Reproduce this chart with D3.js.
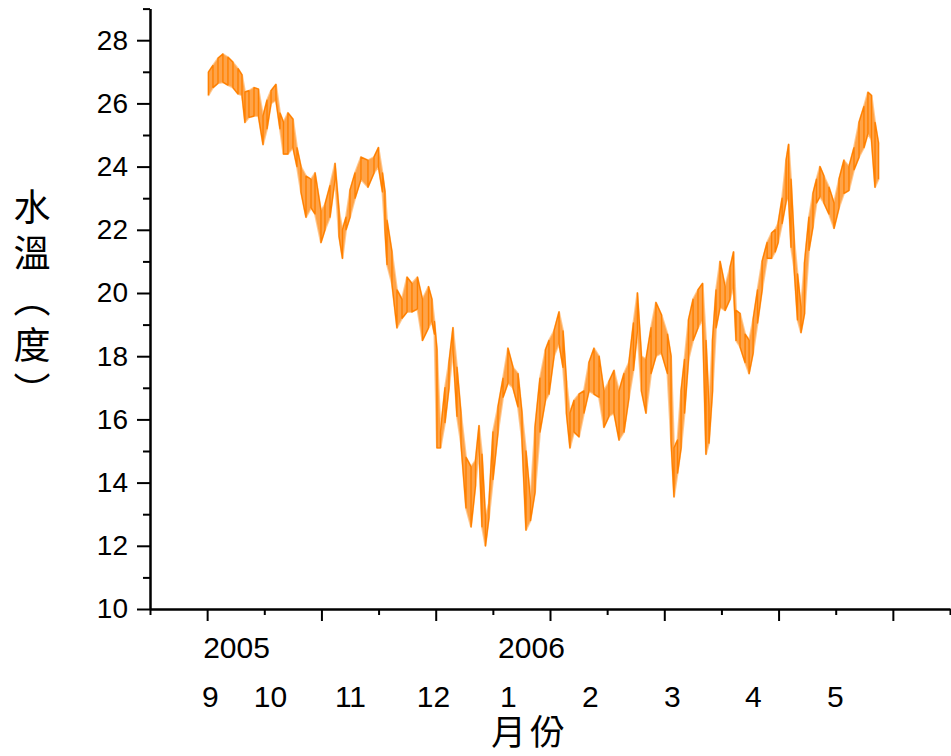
<!DOCTYPE html>
<html lang="zh-Hant">
<head>
    <meta charset="UTF-8">
    <title>水溫</title>
    <script src="https://d3js.org/d3.v7.min.js"></script>
    <style>
        body {
            margin: 0;
            background-color: #ffffff;
        }
        .axis path, .axis line {
            stroke: #000;
            stroke-width: 2px;
        }
        .axis text {
            font-family: 'Liberation Sans', Arial, sans-serif;
            font-size: 28px;
            fill: #000;
        }
        .date-label {
            font-family: 'Liberation Sans', Arial, sans-serif;
            font-size: 30px;
            fill: #000;
        }
        .cjk-label {
            font-family: 'Noto Sans CJK TC', 'Noto Sans CJK SC', sans-serif;
            fill: #000;
        }
    </style>
</head>
<body>
    <svg id="chart"></svg>

    <script>
        // sample index of each reading (the x axis runs in sample counts)
        const sampleIdx = [
            12, 51, 95, 138, 182, 226, 270, 305, 331, 366, 410, 449, 489, 524, 559, 602,
            637, 668, 707, 751, 786, 821, 865, 909, 944, 996, 1031, 1075, 1119, 1154, 1184, 1215,
            1250, 1294, 1346, 1407, 1460, 1499, 1534, 1556, 1574, 1617, 1661, 1705, 1749, 1792, 1840, 1884,
            1937, 1967, 1989, 2011, 2042, 2081, 2116, 2151, 2186, 2221, 2265, 2309, 2348, 2379, 2405, 2435,
            2466, 2501, 2545, 2589, 2632, 2676, 2720, 2755, 2790, 2829, 2869, 2912, 2960, 2991, 3035, 3079,
            3114, 3144, 3175, 3210, 3254, 3297, 3341, 3385, 3429, 3472, 3516, 3560, 3604, 3647, 3691, 3730,
            3765, 3800, 3840, 3884, 3927, 3976, 4028, 4059, 4085, 4116, 4147, 4177, 4212, 4252, 4295, 4335,
            4365, 4391, 4422, 4453, 4488, 4532, 4575, 4606, 4628, 4663, 4707, 4742, 4777, 4816, 4856, 4900,
            4939, 4970, 4996, 5031, 5066, 5088, 5109, 5136, 5166, 5196, 5227, 5266, 5301, 5332, 5362, 5397,
            5441, 5485, 5529, 5572, 5616, 5660, 5704, 5747, 5782, 5813, 5844, 5874
        ];

        // upper and lower water temperature (°C) around each reading
        const tempHigh = [
            26.99, 27.2, 27.43, 27.56, 27.46, 27.3, 27.1, 26.9, 26.36, 26.4, 26.5, 26.45, 25.6, 26.1, 26.4, 26.6,
            25.7, 25.4, 25.7, 25.5, 24.6, 24.0, 23.7, 23.6, 23.8, 22.6, 22.8, 23.4, 24.1, 22.6, 22.0, 22.4,
            23.25, 23.8, 24.3, 24.2, 24.3, 24.6, 23.8, 23.2, 22.3, 21.3, 20.1, 19.8, 20.5, 20.3, 20.5, 19.8,
            20.2, 19.8, 19.1, 18.2, 15.6, 17.0, 17.8, 18.9, 17.65, 16.2, 14.8, 14.5, 14.7, 15.8, 14.9, 12.9,
            13.35, 15.6, 16.4, 17.3, 18.25, 17.65, 17.45, 16.2, 15.0, 13.45, 15.75, 17.3, 18.2, 18.5, 18.8, 19.4,
            18.8, 17.2, 16.2, 16.6, 16.8, 16.9, 17.8, 18.25, 18.0, 16.9, 17.2, 17.55, 16.9, 17.45, 17.8, 19.05,
            20.0, 18.0, 17.9, 18.9, 19.7, 19.3, 18.7, 18.0, 15.1, 15.35, 16.9, 17.9, 19.15, 19.8, 20.1, 20.3,
            18.5, 16.4, 18.5, 20.1, 21.0, 20.2, 20.8, 21.3, 19.45, 19.35, 18.7, 18.5, 19.15, 20.1, 21.0, 21.6,
            21.9, 22.0, 22.2, 23.0, 24.2, 24.7, 23.6, 21.7, 20.6, 19.55, 20.95, 22.4, 23.15, 23.6, 24.0, 23.7,
            23.35, 22.85, 23.6, 24.2, 24.0, 24.6, 25.4, 25.9, 26.35, 26.25, 25.4, 24.75
        ];
        const tempLow = [
            26.26, 26.5, 26.64, 26.67, 26.58, 26.5, 26.3, 26.26, 25.4, 25.56, 25.6, 25.6, 24.7, 25.2, 26.0, 26.1,
            25.2, 24.4, 24.4, 24.6, 24.0, 23.2, 22.4, 22.7, 22.5, 21.6, 22.0, 22.4, 23.6, 21.8, 21.1, 22.0,
            22.4, 23.0, 23.6, 23.35, 23.8, 24.0, 23.2, 22.0, 20.9, 20.3, 18.9, 19.2, 19.4, 19.4, 19.5, 18.5,
            18.9, 19.1, 18.7, 15.1, 15.1, 15.9, 17.0, 18.2, 16.1, 15.25, 13.2, 12.6, 13.9, 15.1, 12.6, 12.0,
            12.9, 14.1, 15.6, 16.7, 17.15, 17.0, 16.4, 15.35, 12.5, 12.8, 13.7, 15.6, 16.6, 16.8, 18.0, 18.4,
            17.65, 16.2, 15.1, 15.6, 15.45, 16.2, 16.9, 16.8, 16.7, 15.75, 16.1, 16.2, 15.35, 15.6, 16.7, 17.55,
            18.8, 16.9, 16.2, 17.45, 18.0, 18.1, 17.45, 15.35, 13.55, 14.3, 15.1, 16.2, 17.9, 18.5, 18.9, 19.15,
            14.9, 15.25, 16.9, 18.9, 19.55, 19.45, 19.8, 20.2, 18.5, 18.3, 17.8, 17.45, 18.1, 19.05, 20.1, 21.1,
            21.1, 21.3, 21.6, 22.2, 22.9, 23.0, 21.45, 20.8, 19.15, 18.75, 19.35, 21.35, 22.1, 22.85, 23.05, 22.85,
            22.5, 22.05, 22.7, 23.15, 23.25, 23.9, 24.3, 24.6, 25.05, 24.85, 23.35, 23.6
        ];

        // y ticks
        const yMajorTicks = [10, 12, 14, 16, 18, 20, 22, 24, 26, 28];
        const yMinorTicks = [11, 13, 15, 17, 19, 21, 23, 25, 27, 29];
        // x ticks (sample index)
        const xMajorTicks = [0, 1000, 2000, 3000, 4000, 5000, 6000];
        const xMinorTicks = [-500, 500, 1500, 2500, 3500, 4500, 5500, 6500];

        // month / year labels under the axis, placed at sample positions
        const monthLabels = ["9", "10", "11", "12", "1", "2", "3", "4", "5"];
        const monthPos = [29, 554, 1254, 1980, 2636, 3353, 4071, 4780, 5497];
        const yearLabels = ["2005", "2006"];
        const yearPos = [257, 2838];

        const xTitle = "月份";
        const yTitle = "水溫（度）";

        const W = 951, H = 756;
        const margin = { top: 8.6, right: 1, bottom: 147, left: 150 };

        const svg = d3.select("#chart")
            .attr("width", W)
            .attr("height", H);

        const x = d3.scaleLinear()
            .domain([-500, 6500])
            .range([margin.left, W - margin.right]);

        const y = d3.scaleLinear()
            .domain([10, 29])
            .range([H - margin.bottom, margin.top]);

        const records = sampleIdx.map((s, i) => ({ s, hi: tempHigh[i], lo: tempLow[i] }));

        // band between low and high readings
        const band = d3.area()
            .x(d => x(d.s))
            .y0(d => y(d.lo))
            .y1(d => y(d.hi));

        svg.append("path")
            .datum(records)
            .attr("fill", "#ff8c1a")
            .attr("fill-opacity", 0.8)
            .attr("stroke", "#ffa64d")
            .attr("stroke-opacity", 0.6)
            .attr("stroke-width", 2)
            .attr("stroke-linejoin", "round")
            .attr("d", band);

        // zig-zag through low/high readings (swing of each reading)
        const pts = [];
        records.forEach((r, i) => {
            if (i % 2 === 0) {
                pts.push([r.s, r.lo], [r.s, r.hi]);
            } else {
                pts.push([r.s, r.hi], [r.s, r.lo]);
            }
        });

        const line = d3.line()
            .x(d => x(d[0]))
            .y(d => y(d[1]));

        svg.append("path")
            .datum(pts)
            .attr("fill", "none")
            .attr("stroke", "#ff8000")
            .attr("stroke-width", 1.4)
            .attr("stroke-linejoin", "round")
            .attr("d", line);

        // axes
        const y0 = y(10);

        svg.append("g")
            .attr("class", "axis")
            .attr("transform", `translate(${margin.left},0)`)
            .call(d3.axisLeft(y).tickValues(yMinorTicks).tickSize(7).tickSizeOuter(0).tickFormat(""));

        svg.append("g")
            .attr("class", "axis")
            .attr("transform", `translate(${margin.left},0)`)
            .call(d3.axisLeft(y).tickValues(yMajorTicks).tickSize(13).tickPadding(9).tickSizeOuter(0).tickFormat(d3.format("d")));

        svg.append("g")
            .attr("class", "axis")
            .attr("transform", `translate(0,${y0})`)
            .call(d3.axisBottom(x).tickValues(xMinorTicks).tickSize(6).tickSizeOuter(0).tickFormat(""));

        svg.append("g")
            .attr("class", "axis")
            .attr("transform", `translate(0,${y0})`)
            .call(d3.axisBottom(x).tickValues(xMajorTicks).tickSize(12).tickSizeOuter(0).tickFormat(""));

        // year and month labels
        svg.selectAll(".year-label")
            .data(yearLabels)
            .enter()
            .append("text")
            .attr("class", "date-label")
            .attr("x", (d, i) => x(yearPos[i]))
            .attr("y", 658)
            .attr("text-anchor", "middle")
            .text(d => d);

        svg.selectAll(".month-label")
            .data(monthLabels)
            .enter()
            .append("text")
            .attr("class", "date-label")
            .attr("x", (d, i) => x(monthPos[i]))
            .attr("y", 707)
            .attr("text-anchor", "middle")
            .text(d => d);

        // axis titles
        svg.append("text")
            .attr("class", "cjk-label")
            .attr("x", 530)
            .attr("y", 745)
            .attr("text-anchor", "middle")
            .style("font-size", "35px")
            .style("letter-spacing", "4px")
            .text(xTitle);

        svg.append("text")
            .attr("class", "cjk-label")
            .attr("x", 32)
            .attr("y", 303)
            .attr("text-anchor", "middle")
            .style("writing-mode", "vertical-rl")
            .style("font-size", "37px")
            .style("letter-spacing", "9px")
            .text(yTitle);
    </script>
</body>
</html>
